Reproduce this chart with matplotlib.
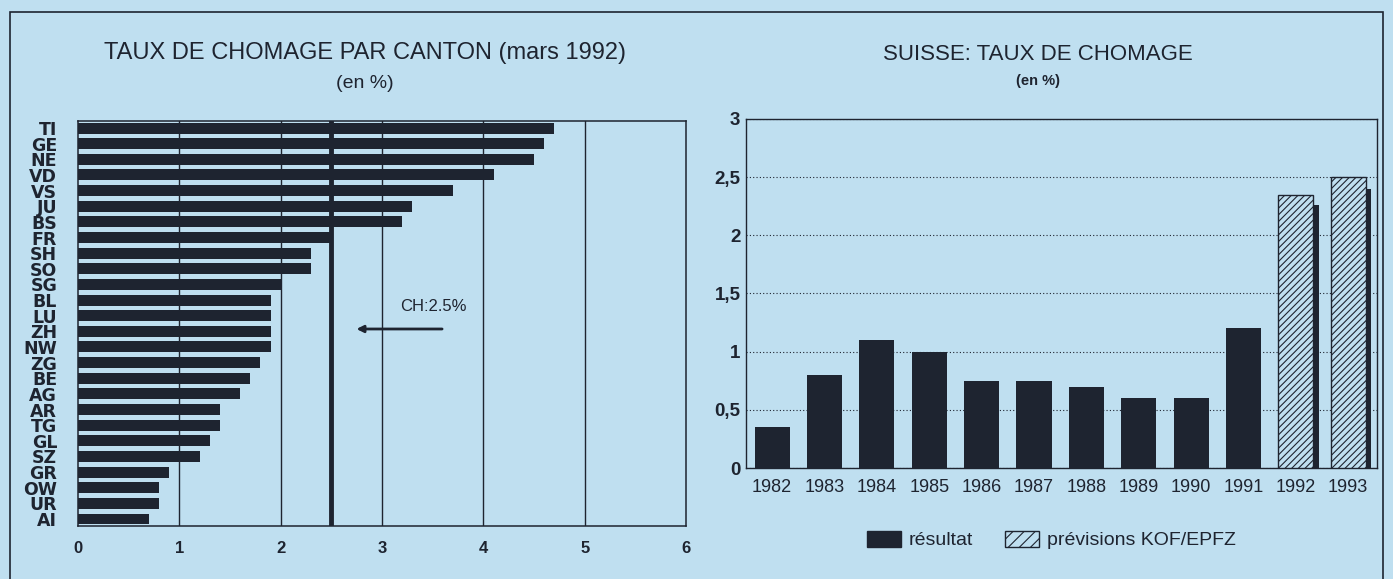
import numpy as np
import matplotlib.pyplot as plt
from matplotlib.patches import Patch, Rectangle

# left chart: unemployment by canton, March 1992
cantons = ['TI', 'GE', 'NE', 'VD', 'VS', 'JU', 'BS', 'FR', 'SH', 'SO', 'SG', 'BL', 'LU',
           'ZH', 'NW', 'ZG', 'BE', 'AG', 'AR', 'TG', 'GL', 'SZ', 'GR', 'OW', 'UR', 'AI']
canton_rates = [4.7, 4.6, 4.5, 4.1, 3.7, 3.3, 3.2, 2.5, 2.3, 2.3, 2.0, 1.9, 1.9,
                1.9, 1.9, 1.8, 1.7, 1.6, 1.4, 1.4, 1.3, 1.2, 0.9, 0.8, 0.8, 0.7]
ch_rate = 2.5

# right chart: Switzerland yearly
years = ['1982', '1983', '1984', '1985', '1986', '1987', '1988', '1989', '1990', '1991']
results = [0.35, 0.8, 1.1, 1.0, 0.75, 0.75, 0.7, 0.6, 0.6, 1.2]
fc_years = ['1992', '1993']
forecasts = [2.35, 2.5]
fc_shadow = [2.26, 2.4]

BG = '#bfdff0'
INK = '#1e2430'

plt.rcParams['font.family'] = ['Liberation Sans', 'DejaVu Sans']
plt.rcParams['hatch.linewidth'] = 0.8

fig = plt.figure(figsize=(13.93, 5.79), dpi=100, facecolor=BG)
# outer frame (bottom edge falls outside the picture)
fig.patches.append(Rectangle((10 / 1393, -0.05), 1373 / 1393, 1.05 - 12 / 579,
                             transform=fig.transFigure, fill=False, edgecolor=INK, lw=1.2))

# ---- left chart ----
ax1 = fig.add_axes([0.056, 0.0915, 0.4365, 0.6995], facecolor=BG)
ypos = np.arange(len(cantons))
ax1.barh(ypos, canton_rates, height=0.7, color=INK, zorder=3)
ax1.set_ylim(len(cantons) - 0.55, -0.45)
ax1.set_xlim(0, 6)
for g in range(1, 6):
    ax1.axvline(g, color=INK, lw=1, zorder=1)
ax1.axvline(ch_rate, color=INK, lw=3.5, zorder=4)
ax1.set_yticks(ypos)
ax1.set_yticklabels(cantons, family=['Liberation Sans Narrow', 'DejaVu Sans'],
                    fontweight='bold', fontsize=12.5)
ax1.set_xticks(range(7))
ax1.set_xticklabels([str(v) for v in range(7)], fontweight='bold', fontsize=12)
ax1.tick_params(axis='both', length=0, colors=INK)
ax1.tick_params(axis='x', pad=11)
ax1.tick_params(axis='y', pad=15)
for s in ax1.spines.values():
    s.set_color(INK)
    s.set_linewidth(1.1)
ax1.annotate('', xy=(2.72, 12.85), xytext=(3.62, 12.85),
             arrowprops=dict(arrowstyle='-|>', color=INK, lw=2, mutation_scale=10), zorder=5)
ax1.text(3.51, 11.4, 'CH:2.5%', ha='center', va='center', fontsize=12, color=INK)

fig.text(365 / 1393, 1 - 53 / 579, 'TAUX DE CHOMAGE PAR CANTON (mars 1992)', ha='center',
         va='center', fontsize=17, color=INK)
fig.text(365 / 1393, 1 - 83 / 579, '(en %)', ha='center', va='center', fontsize=14, color=INK)

# ---- right chart ----
ax2 = fig.add_axes([0.5355, 0.1917, 0.453, 0.6028], facecolor=BG)
x = np.arange(len(years))
xf = np.arange(len(years), len(years) + len(fc_years))
w = 0.67
sw = 0.1
ax2.bar(x, results, width=w, color=INK, zorder=3)
ax2.bar(xf + w / 2 + sw / 2, fc_shadow, width=sw, color=INK, zorder=3)
ax2.bar(xf, forecasts, width=w, facecolor=BG, edgecolor=INK, hatch='/////', lw=1, zorder=4)
ax2.set_xlim(-0.5, 11.55)
ax2.set_ylim(0, 3)
ax2.set_yticks([0, 0.5, 1, 1.5, 2, 2.5, 3])
ax2.set_yticklabels(['0', '0,5', '1', '1,5', '2', '2,5', '3'], fontweight='bold', fontsize=13.5)
ax2.set_xticks(np.concatenate([x, xf]))
ax2.set_xticklabels(years + fc_years, fontsize=13)
ax2.grid(axis='y', linestyle=(0, (1, 2)), color=INK, lw=0.8, zorder=1)
ax2.tick_params(axis='x', length=0, pad=8, colors=INK)
ax2.tick_params(axis='y', length=0, pad=4, colors=INK)
for s in ax2.spines.values():
    s.set_color(INK)
    s.set_linewidth(1.0)

fig.text(1038 / 1393, 1 - 55 / 579, 'SUISSE: TAUX DE CHOMAGE', ha='center', va='center',
         fontsize=16, color=INK)
fig.text(1038 / 1393, 1 - 81 / 579, '(en %)', ha='center', va='center', fontsize=10.5,
         color=INK, fontweight='bold')

handles = [Patch(facecolor=INK, edgecolor=INK),
           Patch(facecolor=BG, edgecolor=INK, hatch='///')]
fig.legend(handles, ['résultat', 'prévisions KOF/EPFZ'], loc='center', ncol=2,
           bbox_to_anchor=(1051 / 1393, 1 - 540 / 579), frameon=False, fontsize=14,
           handlelength=1.75, handleheight=0.9, columnspacing=1.65, handletextpad=0.4,
           labelcolor=INK)

fig.savefig('out.png', dpi=100, facecolor=BG)
